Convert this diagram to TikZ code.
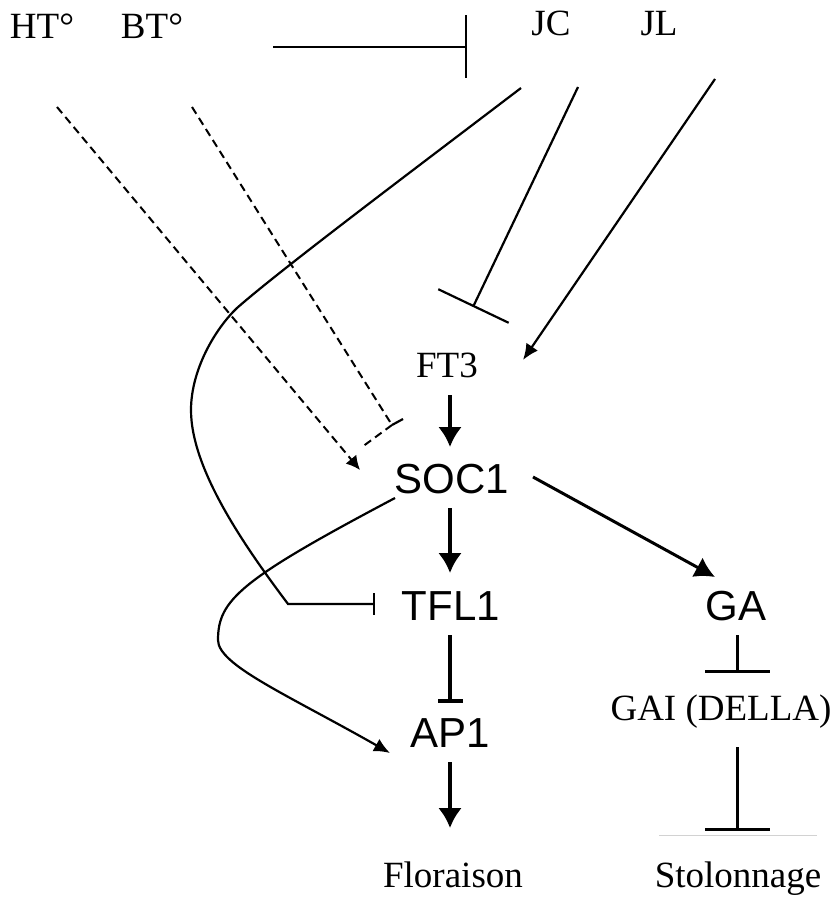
\documentclass[tikz,border=0pt]{standalone}
\usepackage{fontspec}
\setmainfont{Liberation Serif}
\newfontfamily\genefont{Liberation Sans}
\usetikzlibrary{arrows.meta,positioning}

\begin{document}
\begin{tikzpicture}[
  x=0.5pt, y=-0.5pt,
  lab/.style={anchor=base, inner sep=0pt, font=\fontsize{18.5}{20}\selectfont},
  gene/.style={anchor=base, inner sep=0pt, font=\genefont\fontsize{21}{24}\selectfont},
  thinline/.style={line width=1.1pt},
  dashline/.style={line width=1pt, dash pattern=on 4pt off 2.5pt},
  fatarrow/.style={-{Latex[length=10pt,width=12pt]}, line width=2pt},
  midarrow/.style={-{Latex[length=10pt,width=11pt]}, line width=1.5pt},
  thinarrow/.style={-{Latex[length=8pt,width=7pt]}, line width=1.1pt},
  fatbar/.style={-{Bar[width=12.5pt]}, line width=2pt},
  midbar/.style={-{Bar[width=32.5pt]}, line width=1.5pt}
]
\useasboundingbox (0,0) rectangle (837,898);

% signals
\node[lab] (ht) at (42,39) {HT°};
\node[lab] (bt) at (152,39) {BT°};
\node[lab] (jc) at (551,36) {JC};
\node[lab] (jl) at (659,36) {JL};

% genes and outputs
\node[lab] (ft3) at (447,377) {FT3};
\node[gene] (soc1) at (452,493) {SOC1};
\node[gene] (tfl1) at (451,620) {TFL1};
\node[gene] (ga) at (736,620) {GA};
\node[gene] (ap1) at (450,747) {AP1};
\node[lab] (gai) at (721,720) {GAI (DELLA)};
\node[lab] (flo) at (453,887) {Floraison};
\node[lab] (sto) at (738,887) {Stolonnage};

% temperature
\draw[dashline, -{Latex[length=7pt,width=7pt]}] ([shift={(15,68)}]ht.base) -- ([shift={(-92,-23)}]soc1.base);
\coordinate (btend) at ([shift={(-60,-68)}]soc1.base);
\draw[dashline] ([shift={(40,68)}]bt.base) -- (btend);
\draw[thinline] (btend) -- ++(11,-6);
\draw[dashline] (btend) -- ++(-30,22);
\draw[thinline, -{Bar[width=31.5pt]}] ([shift={(121,8)}]bt.base) -- ([shift={(-84,11)}]jc.base);

% day length
\draw[thinline, -{Bar[width=11pt]}] ([shift={(-30,52)}]jc.base)
  .. controls (420,165) and (280,270) .. (237,308)
  .. controls (215,329) and (191,370) .. (191,410)
  .. controls (191,470) and (246,548) .. (288,604)
  -- ([shift={(-76,-16)}]tfl1.base);
\draw[thinline, -{Bar[width=39pt]}] ([shift={(27,51)}]jc.base) -- ([shift={(26,-70)}]ft3.base);
\draw[thinarrow] ([shift={(56,43)}]jl.base) -- ([shift={(76,-17)}]ft3.base);

% cascade
\draw[fatarrow] ([shift={(3,18)}]ft3.base) -- ([shift={(-2,-46)}]soc1.base);
\draw[fatarrow] ([shift={(-2,15)}]soc1.base) -- ([shift={(-1,-47)}]tfl1.base);
\draw[midarrow] ([shift={(81,-16)}]soc1.base) -- ([shift={(-21,-43)}]ga.base);
\draw[fatbar] ([shift={(-1,15)}]tfl1.base) -- ([shift={(0,-44)}]ap1.base);
\draw[fatarrow] ([shift={(0,15)}]ap1.base) -- ([shift={(-3,-59)}]flo.base);
\draw[thinarrow] ([shift={(-57,5)}]soc1.base)
  .. controls (240,580) and (218,600) .. (218,640)
  .. controls (218,665) and (286,694) .. ([shift={(-60,6)}]ap1.base);
\draw[midbar] ([shift={(1,15)}]ga.base) -- ([shift={(16,-47)}]gai.base);
\draw[midbar] ([shift={(16,27)}]gai.base) -- ([shift={(-1,-56)}]sto.base);
\draw[gray!35, line width=0.4pt] ([shift={(-79,-52)}]sto.base) -- ([shift={(79,-52)}]sto.base);

\end{tikzpicture}
\end{document}
